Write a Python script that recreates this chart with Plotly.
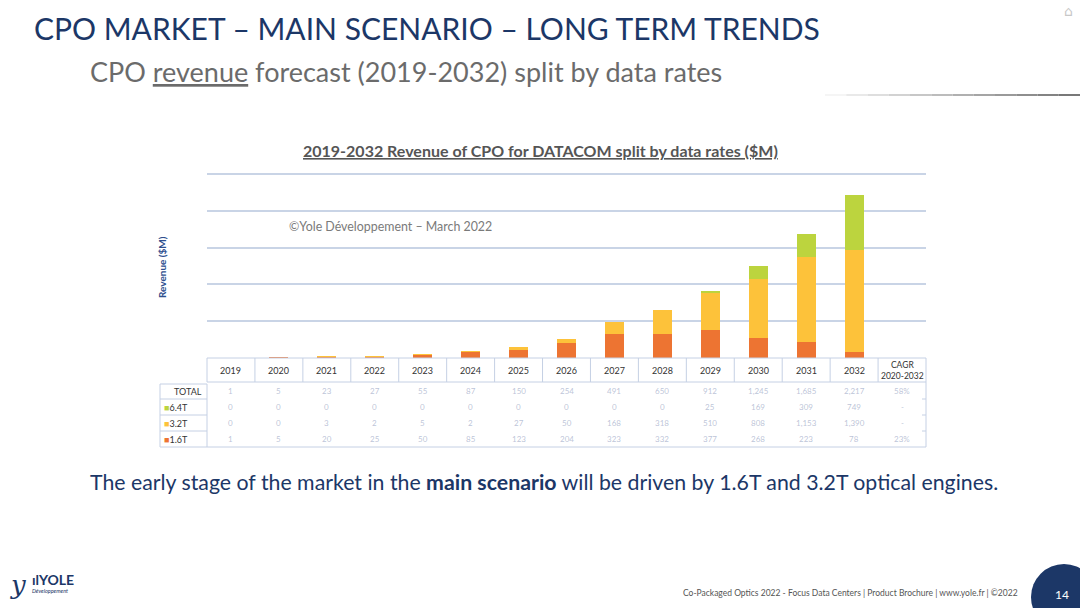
import plotly.graph_objects as go

# ---------------- data ----------------
years = ["2019", "2020", "2021", "2022", "2023", "2024", "2025", "2026",
         "2027", "2028", "2029", "2030", "2031", "2032"]
rev_16t = [1, 5, 20, 25, 50, 85, 123, 204, 323, 332, 377, 268, 223, 78]
rev_32t = [0, 0, 3, 2, 5, 2, 27, 50, 168, 318, 510, 808, 1153, 1390]
rev_64t = [0, 0, 0, 0, 0, 0, 0, 0, 0, 0, 25, 169, 309, 749]
cagr_labels = ["58%", "-", "-", "23%"]   # TOTAL, 6.4T, 3.2T, 1.6T (blurred in source)
row_labels = ["6.4T", "3.2T", "1.6T"]
y_ticks = [0, 500, 1000, 1500, 2000, 2500]
y_max = 2530

C16, C32, C64 = "#ED7432", "#FDC23A", "#BCD43E"
NAVY = "#1C3767"
GRID = "#C9D4E6"
W, H = 1080, 608


def px(x):
    return x / W


def py(y):
    return 1 - y / H


x_idx = list(range(len(years)))
fig = go.Figure()
for name, vals, col in [("1.6T", rev_16t, C16), ("3.2T", rev_32t, C32), ("6.4T", rev_64t, C64)]:
    fig.add_trace(go.Bar(x=x_idx, y=vals, name=name, marker=dict(color=col, line=dict(width=0)),
                         width=0.4, hoverinfo="skip"))

shapes = []
ann = []

# ---- slide titles ----
ann.append(dict(x=px(32), y=py(28), xref="paper", yref="paper", xanchor="left", yanchor="middle",
                text="CPO MARKET – MAIN SCENARIO – LONG TERM TRENDS", showarrow=False,
                font=dict(family="Lato", size=30, color=NAVY)))
ann.append(dict(x=px(88), y=py(71), xref="paper", yref="paper", xanchor="left", yanchor="middle",
                text="CPO <u>revenue</u> forecast (2019-2032) split by data rates", showarrow=False,
                font=dict(family="Lato", size=27, color="#6B6B6B")))
ann.append(dict(x=px(1068), y=py(11), xref="paper", yref="paper", xanchor="center", yanchor="middle",
                text="⌂", showarrow=False, font=dict(family="DejaVu Sans", size=14, color="#C8C8C8")))
# decorative gradient line
nseg = 12
for i in range(nseg):
    g = int(245 - (245 - 120) * i / (nseg - 1))
    shapes.append(dict(type="line", xref="paper", yref="paper",
                       x0=px(825 + i * 255 / nseg), x1=px(825 + (i + 1) * 255 / nseg),
                       y0=py(95), y1=py(95), line=dict(color=f"rgb({g},{g},{g})", width=2)))

# ---- chart title, watermark, axis title ----
ann.append(dict(x=px(540), y=py(151), xref="paper", yref="paper", xanchor="center", yanchor="middle",
                text="<b><u>2019-2032 Revenue of CPO for DATACOM split by data rates ($M)</u></b>",
                showarrow=False, font=dict(family="Lato", size=16, color="#555555")))
ann.append(dict(x=px(287), y=py(226), xref="paper", yref="paper", xanchor="left", yanchor="middle",
                text="©Yole Développement – March 2022", showarrow=False,
                font=dict(family="Lato", size=12.4, color="#7A7A7A")))
ann.append(dict(x=px(162), y=py(267), xref="paper", yref="paper", xanchor="center", yanchor="middle",
                text="<b>Revenue ($M)</b>", textangle=-90, showarrow=False,
                font=dict(family="Lato", size=10, color="#2E4F8E")))

# ---- table ----
L, X0, X1 = 160, 207, 926
cw = (X1 - X0) / 15
HT, HB = 358, 382
rows_y = [391, 407, 423, 439]
TB = 447
bc = "#C5D0E4"


def line(x0, y0, x1, y1, c=bc, w=1):
    shapes.append(dict(type="line", xref="paper", yref="paper", x0=px(x0), y0=py(y0), x1=px(x1), y1=py(y1),
                       line=dict(color=c, width=w)))


line(X0, HT, X1, HT)
line(X0, HB, X1, HB)
for k in range(16):
    line(X0 + k * cw, HT, X0 + k * cw, HB)
line(L, TB, X1, TB)
line(L, 384, L, TB)
line(X1, HB, X1, TB)
line(X0, 384, X0, TB)
for yb in [384, 399, 415, 431]:
    line(L, yb, X0, yb)
for yb in [399, 415, 431]:
    line(X1 - 4, yb, X1, yb)

for i, yr in enumerate(years):
    ann.append(dict(x=px(X0 + (i + 0.5) * cw), y=py(370), xref="paper", yref="paper",
                    xanchor="center", yanchor="middle", text=yr, showarrow=False,
                    font=dict(family="Lato", size=9, color="#333333")))
ann.append(dict(x=px(X0 + 14.5 * cw), y=py(370), xref="paper", yref="paper",
                xanchor="center", yanchor="middle", text="CAGR<br>2020-2032", showarrow=False,
                font=dict(family="Lato", size=8.5, color="#333333")))

ann.append(dict(x=px(204), y=py(rows_y[0]), xref="paper", yref="paper", xanchor="right", yanchor="middle",
                text="TOTAL", showarrow=False, font=dict(family="Lato", size=9, color="#333333")))
for lab, col, yy in zip(row_labels, [C64, C32, C16], rows_y[1:]):
    ann.append(dict(x=px(162), y=py(yy), xref="paper", yref="paper", xanchor="left", yanchor="middle",
                    text=f"<span style='color:{col}'>■</span>{lab}", showarrow=False,
                    font=dict(family="Lato", size=9, color="#333333")))

# blurred values (kept pale as in the source)
blur = "rgba(120,135,175,0.5)"
totals = [a + b + c for a, b, c in zip(rev_16t, rev_32t, rev_64t)]
for r, series in enumerate([totals, rev_64t, rev_32t, rev_16t]):
    for i, v in enumerate(series):
        ann.append(dict(x=px(X0 + (i + 0.5) * cw), y=py(rows_y[r]), xref="paper", yref="paper",
                        xanchor="center", yanchor="middle", text=f"{v:,}", showarrow=False,
                        font=dict(family="Lato", size=8, color=blur)))
    ann.append(dict(x=px(X0 + 14.5 * cw), y=py(rows_y[r]), xref="paper", yref="paper",
                    xanchor="center", yanchor="middle", text=cagr_labels[r], showarrow=False,
                    font=dict(family="Lato", size=8, color=blur)))

# ---- bottom statement ----
ann.append(dict(x=px(544), y=py(482), xref="paper", yref="paper", xanchor="center", yanchor="middle",
                text="The early stage of the market in the <b>main scenario</b> will be driven by 1.6T and 3.2T optical engines.",
                showarrow=False, font=dict(family="Lato", size=21.3, color=NAVY)))

# ---- footer ----
ann.append(dict(x=px(1020), y=py(593), xref="paper", yref="paper", xanchor="right", yanchor="middle",
                text="Co-Packaged Optics 2022 - Focus Data Centers | Product Brochure | www.yole.fr | ©2022",
                showarrow=False, font=dict(family="Lato", size=8.5, color="#555555")))
shapes.append(dict(type="circle", xref="paper", yref="paper", x0=px(1031), x1=px(1097), y0=py(630), y1=py(564),
                   fillcolor=NAVY, line=dict(width=0)))
ann.append(dict(x=px(1062), y=py(594), xref="paper", yref="paper", xanchor="center", yanchor="middle",
                text="14", showarrow=False, font=dict(family="Lato", size=12, color="white")))
ann.append(dict(x=px(18), y=py(585), xref="paper", yref="paper", xanchor="center", yanchor="middle",
                text="<i>y</i>", showarrow=False, font=dict(family="DejaVu Serif", size=26, color=NAVY)))
ann.append(dict(x=px(30), y=py(579), xref="paper", yref="paper", xanchor="left", yanchor="middle",
                text="<b>ılYOLE</b>", showarrow=False, font=dict(family="Lato", size=14, color=NAVY)))
ann.append(dict(x=px(30), y=py(591), xref="paper", yref="paper", xanchor="left", yanchor="middle",
                text="<i>Développement</i>", showarrow=False, font=dict(family="Lato", size=5.5, color=NAVY)))

y_top_px = 358 - (358 - 174) * y_max / 2500
fig.update_layout(
    width=W, height=H, autosize=False,
    margin=dict(l=0, r=0, t=0, b=0),
    paper_bgcolor="white", plot_bgcolor="white",
    barmode="stack", showlegend=False,
    shapes=shapes, annotations=ann,
    xaxis=dict(domain=[px(X0), px(X1)], range=[-0.5, 14.5], showticklabels=False, showgrid=False,
               zeroline=False, showline=False, fixedrange=True),
    yaxis=dict(domain=[py(358), py(y_top_px)], range=[0, y_max], tickvals=y_ticks, showticklabels=False,
               showgrid=True, gridcolor=GRID, gridwidth=1.5, zeroline=False, showline=False, fixedrange=True),
)
fig.write_html("out.html", config={"displayModeBar": False},
               post_script="document.body.style.margin='0';document.body.style.overflow='hidden';")
